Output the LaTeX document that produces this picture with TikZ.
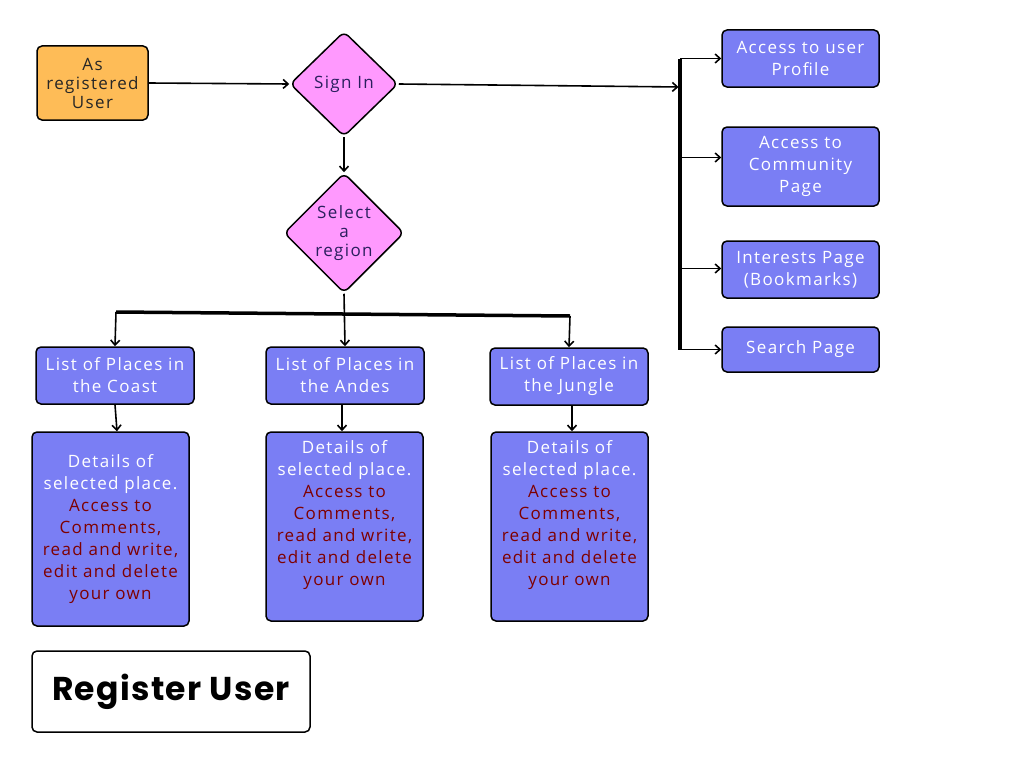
\documentclass[tikz,border=0pt]{standalone}
\usepackage{fontspec}
\setmainfont{Open Sans}[LetterSpace=8]
\newfontfamily\titlefont{Poppins}[LetterSpace=4]
\usepackage{xcolor}
\usetikzlibrary{shapes.geometric, arrows.meta, positioning}
\definecolor{boxblue}{HTML}{7A7EF4}
\definecolor{diapink}{HTML}{FF99FE}
\definecolor{useramber}{HTML}{FEBC57}
\definecolor{notered}{HTML}{7E0000}
\definecolor{diatext}{HTML}{2A1F5E}
\tikzstyle{arrow} = [line width=1.6pt,-{Straight Barb[length=5pt,width=9pt]}]
\tikzstyle{bus} = [line width=3.5pt]

\begin{document}
\begin{tikzpicture}[x=1pt,y=-1pt]
    \tikzstyle{block} = [rectangle, draw, line width=1.5pt, rounded corners=5pt,
        fill=boxblue, text=white, align=center, inner sep=0pt,
        font=\fontsize{17}{22}\selectfont]
    \tikzstyle{infoblock} = [block, text width=155pt, minimum width=157pt]
    \tikzstyle{decision} = [diamond, draw, line width=1.5pt, rounded corners=6pt,
        fill=diapink, text=diatext, align=center, inner sep=0pt,
        font=\fontsize{17}{19}\selectfont]
    \useasboundingbox[fill=white] (0,0) rectangle (1024,768);

    \node [block, fill=useramber, text=black!85, minimum width=111pt, minimum height=74pt,
        font=\fontsize{17}{19}\selectfont] (user) at (92.5,83) {As\\registered\\User};
    \node [decision, minimum width=108pt, minimum height=105pt] (signin) at (344,84) {Sign In};
    \node [decision, minimum width=120pt, minimum height=120pt] (region) at (344,233) {Select\\a\\region};

    \node [block, minimum width=157pt, minimum height=57pt] (profile) at (800.5,58.5) {Access to user\\Profile};
    \node [block, minimum width=157pt, minimum height=79pt] (community) at (800.5,166.5) {Access to\\Community\\Page};
    \node [block, minimum width=157pt, minimum height=57pt] (interests) at (800.5,269.5) {Interests Page\\(Bookmarks)};
    \node [block, minimum width=157pt, minimum height=45pt] (search) at (800.5,349.5) {Search Page};

    \node [block, minimum width=158pt, minimum height=57pt] (coast) at (115,375.5) {List of Places in\\the Coast};
    \node [block, minimum width=158pt, minimum height=57pt] (andes) at (345,375.5) {List of Places in\\the Andes};
    \node [block, minimum width=158pt, minimum height=57pt] (jungle) at (569,376.5) {List of Places in\\the Jungle};

    \node [infoblock, minimum height=194pt] (coastinfo) at (110.5,529) {Details of\\selected place.\\
        {\color{notered}Access to\\Comments,\\read and write,\\edit and delete\\your own}};
    \node [infoblock, minimum height=189pt, text depth=160pt] (andesinfo) at (344.5,526.5) {Details of\\selected place.\\
        {\color{notered}Access to\\Comments,\\read and write,\\edit and delete\\your own}};
    \node [infoblock, minimum height=189pt, text depth=160pt] (jungleinfo) at (569.5,526.5) {Details of\\selected place.\\
        {\color{notered}Access to\\Comments,\\read and write,\\edit and delete\\your own}};

    \node [block, fill=white, text=black, minimum width=278pt, minimum height=81pt,
        font=\titlefont\bfseries\fontsize{33}{38}\selectfont] (register) at (171,691.5) {Register User};

    % Arrows
    \coordinate (spine) at (680,87);
    \coordinate (forkL) at (116,312);
    \coordinate (forkR) at (570,316);
    \draw[arrow] (user.east) -- (signin.west);
    \draw[arrow] (signin.south) -- (region.north);
    \draw[arrow, shorten >=1.5pt] (signin.east) -- (spine);
    \draw[bus] (spine |- profile.west) -- (spine |- search.west);
    \draw[arrow] (spine |- profile.west) -- (profile.west);
    \draw[arrow] ([yshift=9pt]spine |- community.west) -- ([yshift=9pt]community.west);
    \draw[arrow] ([yshift=1pt]spine |- interests.west) -- ([yshift=1pt]interests.west);
    \draw[arrow] (spine |- search.west) -- (search.west);

    \draw[bus] (forkL) -- (forkR);
    \draw[arrow] (forkL) -- (coast.north);
    \draw[arrow] (region.south) -- (andes.north);
    \draw[arrow] (forkR) -- (jungle.north);
    \draw[arrow] (coast.south) -- ([xshift=2pt]coast.south |- coastinfo.north);
    \draw[arrow] ([xshift=-3pt]andes.south) -- ([xshift=-3pt]andes.south |- andesinfo.north);
    \draw[arrow] ([xshift=3pt]jungle.south) -- ([xshift=3pt]jungle.south |- jungleinfo.north);

\end{tikzpicture}
\end{document}
